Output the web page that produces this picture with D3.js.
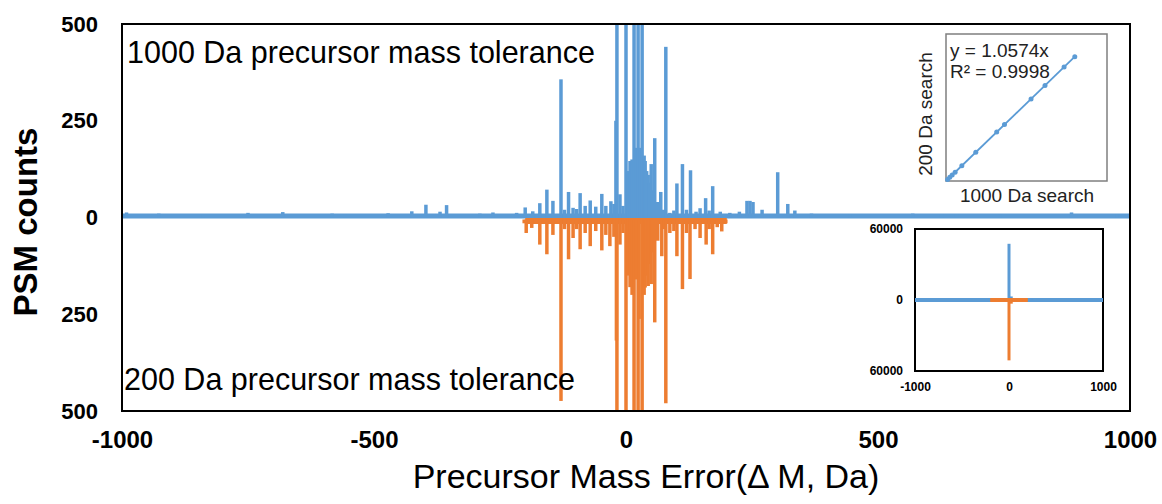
<!DOCTYPE html>
<html>
<head>
<meta charset="utf-8">
<script src="https://cdn.jsdelivr.net/npm/d3@7"></script>
<style>
  body { margin: 0; background: #fff; }
  svg text { font-family: "Liberation Sans", Arial, Helvetica, sans-serif; }
</style>
</head>
<body>
<svg id="chart" width="1162" height="504"></svg>
<script>
// spikes of the 1000 Da search: [mass error (Da), PSM count]
const blueSpikes = [
  [-991, 13], [-927, 10], [-839, 8], [-750, 12], [-681, 14], [-583, 10], [-558, 8],
  [-472, 11], [-425, 16], [-397, 33], [-369, 15], [-356, 32], [-290, 10], [-264, 13],
  [-217, 12], [-200, 26], [-185, 16], [-171, 37], [-157, 72], [-145, 43], [-129, 357],
  [-122, 20], [-114, 66], [-105, 25], [-98, 22], [-91, 63], [-81, 30], [-71, 44],
  [-60, 28], [-48, 61], [-40, 30], [-30, 42], [-24, 35], [-20, 250], [-18, 1500],
  [-12, 60], [-6, 30], [0, 47500], [4, 120], [8, 146], [12, 150], [16, 2200], [20, 180],
  [24, 3000], [28, 180], [32, 1200], [36, 160], [38, 146], [41, 120], [44, 110],
  [47, 90], [50, 138], [53, 70], [57, 205], [63, 40], [69, 66], [74, 20], [79, 441],
  [87, 12], [95, 18], [101, 88], [112, 138], [120, 20], [128, 122], [139, 15],
  [147, 24], [158, 50], [165, 18], [172, 81], [187, 15], [206, 12], [225, 15],
  [240, 43], [246, 43], [252, 40], [270, 20], [301, 117], [321, 35], [335, 18],
  [368, 10], [444, 8], [569, 10], [626, 9], [656, 9], [742, 7], [884, 13], [974, 9]
];
// spikes of the 200 Da search, plotted downward
const orangeSpikes = [
  [-202, 15], [-198, 40], [-187, 27], [-171, 70], [-157, 95], [-145, 45], [-129, 474],
  [-122, 30], [-114, 108], [-105, 53], [-98, 30], [-91, 82], [-81, 40], [-71, 74],
  [-60, 35], [-48, 85], [-40, 45], [-32, 74], [-24, 50], [-19, 318], [-18, 1600],
  [-12, 70], [-6, 40], [0, 51000], [4, 150], [8, 180], [12, 200], [16, 2300], [20, 160],
  [24, 3100], [26, 262], [32, 1300], [36, 200], [38, 181], [41, 150], [44, 177],
  [47, 120], [50, 172], [53, 90], [57, 271], [63, 60], [71, 100], [75, 30], [79, 480],
  [87, 40], [95, 35], [101, 100], [112, 185], [120, 40], [127, 159], [137, 30],
  [147, 53], [159, 70], [165, 30], [172, 95], [181, 25], [190, 36], [198, 15]
];
const blueRange = [-1000, 1000];
const orangeRange = [-200, 200];

const xTicks = [-1000, -500, 0, 500, 1000];
const yTicks = [-500, -250, 0, 250, 500];
const insetXTicks = [-1000, 0, 1000];
const insetYTicks = [-60000, 0, 60000];

// correlation inset: PSMs per bin, 1000 Da search vs 200 Da search
const scatterX = [600, 1400, 2300, 3400, 5900, 11100, 18900, 21800, 31700, 36900, 44000, 48000];
const scatterY = [630, 1480, 2430, 3600, 6240, 11740, 19980, 23050, 33520, 39020, 46520, 50750];
const trendSlope = 1.0574;

const blue = "#5b9bd5", orange = "#ed7d31";
const font = "'Liberation Sans', Arial, Helvetica, sans-serif";
const svg = d3.select("#chart");

let plot = { left: 122, right: 1130, top: 24, bottom: 411 };

let x = d3.scaleLinear().domain([-1000, 1000]).range([plot.left, plot.right]);
let y = d3.scaleLinear().domain([-500, 500]).range([plot.bottom, plot.top]);

svg.append("clipPath").attr("id", "clip")
  .append("rect")
  .attr("x", plot.left).attr("y", plot.top)
  .attr("width", plot.right - plot.left).attr("height", plot.bottom - plot.top);

let g = svg.append("g").attr("clip-path", "url(#clip)");

// baselines
g.append("line")
  .attr("x1", x(blueRange[0])).attr("x2", x(blueRange[1]))
  .attr("y1", y(0) - 1.5).attr("y2", y(0) - 1.5)
  .attr("stroke", blue).attr("stroke-width", 5);

g.selectAll(".bs").data(blueSpikes).enter().append("line")
  .attr("x1", d => x(d[0])).attr("x2", d => x(d[0]))
  .attr("y1", y(0)).attr("y2", d => y(d[1]))
  .attr("stroke", blue).attr("stroke-width", 3.5);

g.append("line")
  .attr("x1", x(orangeRange[0])).attr("x2", x(orangeRange[1]))
  .attr("y1", y(0) + 3.5).attr("y2", y(0) + 3.5)
  .attr("stroke", orange).attr("stroke-width", 6);

g.selectAll(".os").data(orangeSpikes).enter().append("line")
  .attr("x1", d => x(d[0])).attr("x2", d => x(d[0]))
  .attr("y1", y(0) + 2).attr("y2", d => y(-d[1]))
  .attr("stroke", orange).attr("stroke-width", 3.5);

// frame
svg.append("rect")
  .attr("x", plot.left).attr("y", plot.top)
  .attr("width", plot.right - plot.left).attr("height", plot.bottom - plot.top)
  .attr("fill", "none").attr("stroke", "#000").attr("stroke-width", 2);

// axes
let yAxis = svg.append("g")
  .attr("transform", `translate(${plot.left},0)`)
  .call(d3.axisLeft(y).tickValues(yTicks).tickSize(0).tickPadding(24).tickFormat(d => String(Math.abs(d))));
yAxis.attr("font-family", font);
yAxis.select(".domain").remove();
yAxis.selectAll("text").style("font-size", "22px").style("font-weight", "bold").attr("fill", "#000");

let xAxis = svg.append("g")
  .attr("transform", `translate(0,${plot.bottom})`)
  .call(d3.axisBottom(x).tickValues(xTicks).tickSize(0).tickPadding(20).tickFormat(d => String(d)));
xAxis.attr("font-family", font);
xAxis.select(".domain").remove();
xAxis.selectAll("text").style("font-size", "24px").style("font-weight", "bold").attr("fill", "#000");

svg.append("text")
  .attr("transform", `translate(37,222) rotate(-90)`)
  .attr("text-anchor", "middle")
  .style("font-size", "33px").style("font-weight", "bold")
  .text("PSM counts");

svg.append("text")
  .attr("x", 646).attr("y", 488)
  .attr("text-anchor", "middle")
  .style("font-size", "34px")
  .text("Precursor Mass Error(\u0394 M, Da)");

svg.append("text")
  .attr("x", 127).attr("y", 63)
  .style("font-size", "30.5px")
  .text("1000 Da precursor mass tolerance");

svg.append("text")
  .attr("x", 124).attr("y", 390)
  .style("font-size", "30.5px")
  .text("200 Da precursor mass tolerance");

// scatter inset
let sBox = { left: 946, right: 1107, top: 34, bottom: 181 };
let sx = d3.scaleLinear().domain([0, 60000]).range([sBox.left, sBox.right]);
let sy = d3.scaleLinear().domain([0, 60000]).range([sBox.bottom, sBox.top]);

svg.append("rect")
  .attr("x", sBox.left).attr("y", sBox.top)
  .attr("width", sBox.right - sBox.left).attr("height", sBox.bottom - sBox.top)
  .attr("fill", "#fff").attr("stroke", "#7f7f7f").attr("stroke-width", 1.5);

let maxX = d3.max(scatterX);
svg.append("line")
  .attr("x1", sx(0)).attr("y1", sy(0))
  .attr("x2", sx(maxX)).attr("y2", sy(maxX * trendSlope))
  .attr("stroke", blue).attr("stroke-width", 1.8);

svg.selectAll(".pt").data(scatterX).enter().append("circle")
  .attr("cx", d => sx(d)).attr("cy", (d, i) => sy(scatterY[i]))
  .attr("r", 2.5).attr("fill", blue);

svg.append("text").attr("x", 950).attr("y", 57).style("font-size", "19px").attr("fill", "#222")
  .text("y = 1.0574x");
svg.append("text").attr("x", 950).attr("y", 78).style("font-size", "19px").attr("fill", "#222")
  .text("R\u00b2 = 0.9998");
svg.append("text")
  .attr("transform", `translate(932,114) rotate(-90)`)
  .attr("text-anchor", "middle")
  .style("font-size", "19px").attr("fill", "#222")
  .text("200 Da search");
svg.append("text")
  .attr("x", 1027).attr("y", 202)
  .attr("text-anchor", "middle")
  .style("font-size", "19px").attr("fill", "#222")
  .text("1000 Da search");

// overview inset
let iBox = { left: 915, right: 1103, top: 229, bottom: 371 };
let ix = d3.scaleLinear().domain([-1000, 1000]).range([iBox.left, iBox.right]);
let iy = d3.scaleLinear().domain([-60000, 60000]).range([iBox.bottom, iBox.top]);

svg.append("rect")
  .attr("x", iBox.left).attr("y", iBox.top)
  .attr("width", iBox.right - iBox.left).attr("height", iBox.bottom - iBox.top)
  .attr("fill", "#fff").attr("stroke", "#000").attr("stroke-width", 2);

let ig = svg.append("g");
ig.append("line")
  .attr("x1", ix(blueRange[0])).attr("x2", ix(blueRange[1]))
  .attr("y1", iy(0)).attr("y2", iy(0))
  .attr("stroke", blue).attr("stroke-width", 4);
ig.selectAll(".ibs").data(blueSpikes).enter().append("line")
  .attr("x1", d => ix(d[0])).attr("x2", d => ix(d[0]))
  .attr("y1", iy(0)).attr("y2", d => iy(d[1]))
  .attr("stroke", blue).attr("stroke-width", 3);
ig.append("line")
  .attr("x1", ix(orangeRange[0])).attr("x2", ix(orangeRange[1]))
  .attr("y1", iy(0)).attr("y2", iy(0))
  .attr("stroke", orange).attr("stroke-width", 4);
ig.selectAll(".ios").data(orangeSpikes).enter().append("line")
  .attr("x1", d => ix(d[0])).attr("x2", d => ix(d[0]))
  .attr("y1", iy(0)).attr("y2", d => iy(-d[1]))
  .attr("stroke", orange).attr("stroke-width", 3);

let iyAxis = svg.append("g")
  .attr("transform", `translate(${iBox.left},0)`)
  .call(d3.axisLeft(iy).tickValues(insetYTicks).tickSize(0).tickPadding(12).tickFormat(d => String(Math.abs(d))));
iyAxis.attr("font-family", font);
iyAxis.select(".domain").remove();
iyAxis.selectAll("text").style("font-size", "12px").style("font-weight", "bold").attr("fill", "#000");

let ixAxis = svg.append("g")
  .attr("transform", `translate(0,${iBox.bottom})`)
  .call(d3.axisBottom(ix).tickValues(insetXTicks).tickSize(0).tickPadding(11).tickFormat(d => String(d)));
ixAxis.attr("font-family", font);
ixAxis.select(".domain").remove();
ixAxis.selectAll("text").style("font-size", "12px").style("font-weight", "bold").attr("fill", "#000");
</script>
</body>
</html>
